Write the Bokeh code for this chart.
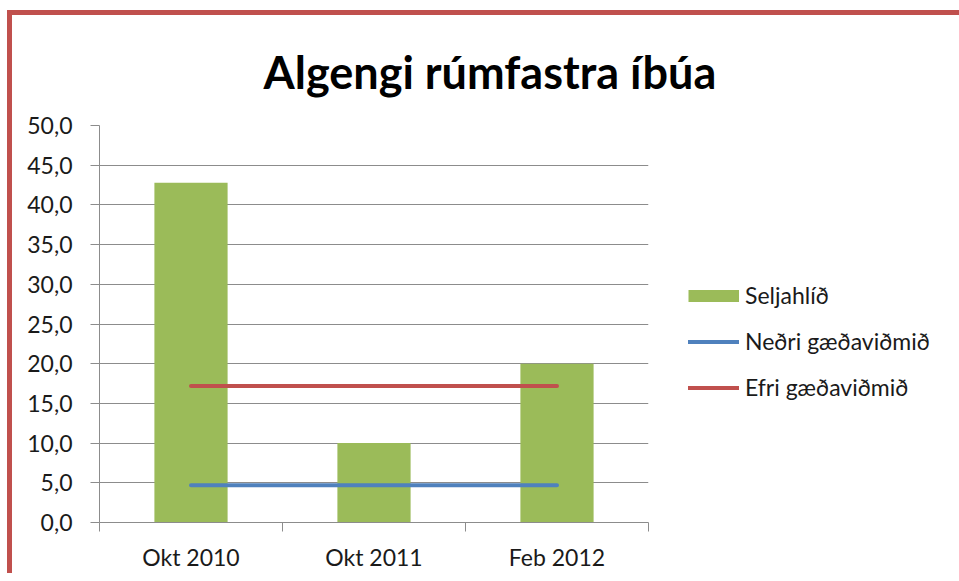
import numpy as np
from bokeh.plotting import figure
from bokeh.models import Range1d, FixedTicker, Legend, LegendItem
from bokeh.embed import file_html
from bokeh.resources import INLINE

categories = ["Okt 2010", "Okt 2011", "Feb 2012"]
seljahlid = [42.8, 10.0, 20.0]
nedri = [4.7, 4.7, 4.7]
efri = [17.2, 17.2, 17.2]
y_ticks = [0, 5, 10, 15, 20, 25, 30, 35, 40, 45, 50]
y_tick_labels = ["0,0", "5,0", "10,0", "15,0", "20,0", "25,0", "30,0", "35,0", "40,0", "45,0", "50,0"]
title_text = "Algengi rúmfastra íbúa"
series_names = ["Seljahlíð", "Neðri gæðaviðmið", "Efri gæðaviðmið"]

FONT = "Lato"
GRAY = "#8c8c8c"
TXT = "#1a1a1a"
GREEN = "#9BBB59"

x = list(np.arange(len(categories)) + 0.5)
bounds = list(range(len(categories) + 1))

p = figure(output_backend="svg", toolbar_location=None,
           frame_width=549, frame_height=397,
           min_border_left=87, min_border_right=300, min_border_top=110, min_border_bottom=50,
           x_range=Range1d(0, len(categories)), y_range=Range1d(0, 50),
           title=title_text)
p.styles = {"border-left": "5px solid #C0504D", "border-top": "5px solid #C0504D",
            "margin-left": "7px", "margin-top": "10px"}
p.outline_line_color = None
p.background_fill_color = "white"
p.border_fill_color = "white"

p.title.text_font = FONT
p.title.text_font_size = "45px"
p.title.text_font_style = "bold"
p.title.text_color = "black"
p.title.align = "left"
p.title.offset = 164
p.title.standoff = 54

yax = p.yaxis[0]
yax.ticker = FixedTicker(ticks=y_ticks)
yax.major_label_overrides = {t: l for t, l in zip(y_ticks, y_tick_labels)}
yax.minor_tick_line_color = None
yax.major_tick_in = 0
yax.major_tick_out = 9
yax.axis_line_color = GRAY
yax.major_tick_line_color = GRAY
yax.major_label_text_font = FONT
yax.major_label_text_font_size = "23px"
yax.major_label_text_color = TXT
yax.major_label_standoff = 18

xax = p.xaxis[0]
xax.ticker = FixedTicker(ticks=x, minor_ticks=bounds)
xax.major_label_overrides = {float(xi): c for xi, c in zip(x, categories)}
xax.major_tick_line_color = None
xax.minor_tick_in = 0
xax.minor_tick_out = 9
xax.minor_tick_line_color = GRAY
xax.axis_line_color = GRAY
xax.major_label_text_font = FONT
xax.major_label_text_font_size = "23px"
xax.major_label_text_color = TXT
xax.major_label_standoff = 11

p.xgrid.visible = False
p.ygrid.ticker = FixedTicker(ticks=y_ticks)
p.ygrid.grid_line_color = GRAY

bars = p.vbar(x=x, top=seljahlid, width=0.4, fill_color=GREEN, line_color=None)
l1 = p.line(x, nedri, line_color="#4F81BD", line_width=4, line_cap="round")
l2 = p.line(x, efri, line_color="#C0504D", line_width=4, line_cap="round")
# legend-only swatch (a single point draws nothing) so the key patch fills the glyph box
swatch = p.line(x[:1], [0], line_color=GREEN, line_width=12, line_cap="butt")

legend = Legend(items=[LegendItem(label=series_names[0], renderers=[bars, swatch]),
                       LegendItem(label=series_names[1], renderers=[l1]),
                       LegendItem(label=series_names[2], renderers=[l2])],
                location=(40, 121), padding=0, margin=0, glyph_width=51, glyph_height=15,
                spacing=18, label_standoff=6, label_text_font=FONT, label_text_font_size="23px",
                label_text_color=TXT, border_line_color=None, background_fill_alpha=0)
p.add_layout(legend, "right")

open("out.html", "w").write(file_html(p, INLINE))
